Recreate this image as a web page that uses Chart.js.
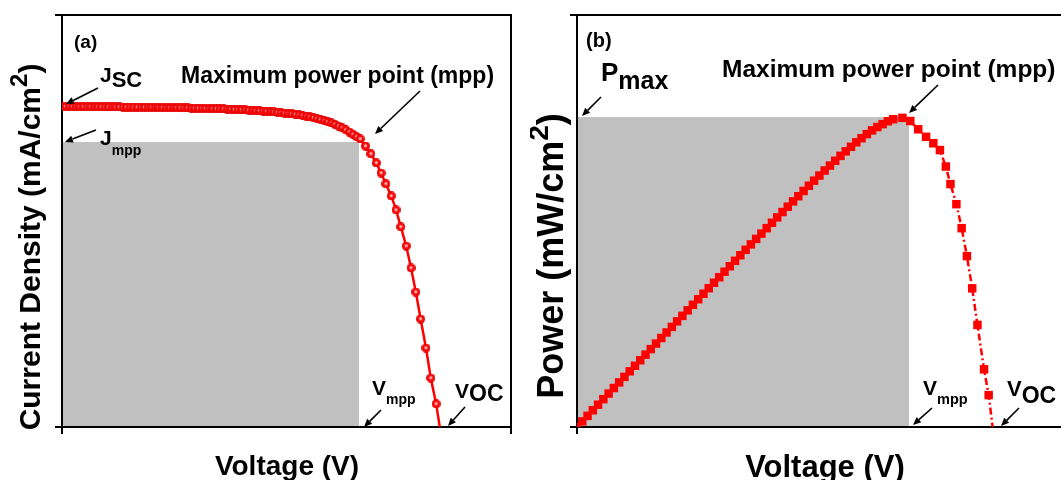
<!DOCTYPE html>
<html>
<head>
<meta charset="utf-8">
<script src="https://cdn.jsdelivr.net/npm/chart.js@4.4.1/dist/chart.umd.min.js"></script>
<style>
  html, body { margin: 0; padding: 0; overflow: hidden; background: #fff; }
  #wrap { position: relative; width: 1061px; height: 480px; overflow: hidden; }
  canvas { position: absolute; top: 0; }
</style>
</head>
<body>
<div id="wrap">
  <canvas id="jv" width="530" height="480" style="left:0"></canvas>
  <canvas id="pv" width="560" height="480" style="left:530px"></canvas>
</div>
<script>
// ---------- (a) J-V curve ----------
const voltageJV = [
  0.000, 0.006, 0.012, 0.018, 0.024, 0.030, 0.036, 0.042, 0.048, 0.054,
  0.060, 0.066, 0.072, 0.078, 0.084, 0.090, 0.096, 0.102, 0.108, 0.114,
  0.120, 0.126, 0.132, 0.138, 0.144, 0.150, 0.156, 0.162, 0.168, 0.174,
  0.180, 0.186, 0.192, 0.198, 0.204, 0.210, 0.216, 0.222, 0.228, 0.234,
  0.240, 0.246, 0.252, 0.258, 0.264, 0.270, 0.276, 0.282, 0.288, 0.294,
  0.300, 0.306, 0.312, 0.318, 0.324, 0.330, 0.336, 0.342, 0.348, 0.354,
  0.360, 0.366, 0.372, 0.378, 0.384, 0.390, 0.396, 0.402, 0.408, 0.414,
  0.420, 0.426, 0.432, 0.438, 0.444, 0.450, 0.456, 0.462, 0.468, 0.474,
  0.480, 0.486, 0.492,
  0.498, 0.507, 0.516, 0.525, 0.533, 0.541, 0.550, 0.558, 0.566, 0.575,
  0.583, 0.591, 0.599, 0.608, 0.616, 0.625, 0.631
];
const currentJV = [
  19.45, 19.45, 19.45, 19.44, 19.44, 19.44, 19.44, 19.43, 19.43, 19.43,
  19.43, 19.43, 19.42, 19.42, 19.42, 19.42, 19.42, 19.41, 19.41, 19.41,
  19.41, 19.41, 19.40, 19.40, 19.40, 19.40, 19.39, 19.39, 19.39, 19.38,
  19.38, 19.38, 19.37, 19.37, 19.36, 19.36, 19.35, 19.35, 19.34, 19.34,
  19.33, 19.33, 19.32, 19.31, 19.31, 19.30, 19.29, 19.28, 19.27, 19.26,
  19.25, 19.24, 19.23, 19.22, 19.20, 19.19, 19.17, 19.16, 19.14, 19.12,
  19.10, 19.08, 19.05, 19.03, 19.00, 18.97, 18.94, 18.90, 18.86, 18.82,
  18.77, 18.72, 18.66, 18.60, 18.53, 18.45, 18.36, 18.26, 18.15, 18.03,
  17.90, 17.76, 17.61,
  17.48, 17.05, 16.57, 16.02, 15.41, 14.75, 14.02, 13.17, 12.14, 10.98,
  9.65, 8.19, 6.55, 4.79, 2.97, 1.40, 0
];

// ---------- (b) P-V curve ----------
const voltagePV = [
  0.000, 0.008, 0.016, 0.024, 0.032, 0.040, 0.048, 0.056, 0.064, 0.072,
  0.080, 0.088, 0.096, 0.104, 0.112, 0.120, 0.128, 0.136, 0.144, 0.152,
  0.160, 0.168, 0.176, 0.184, 0.192, 0.200, 0.208, 0.216, 0.224, 0.232,
  0.240, 0.248, 0.256, 0.264, 0.272, 0.280, 0.288, 0.296, 0.304, 0.312,
  0.320, 0.328, 0.336, 0.344, 0.352, 0.360, 0.368, 0.376, 0.384, 0.392,
  0.400, 0.408, 0.416, 0.424, 0.432, 0.440, 0.448, 0.456, 0.464, 0.472,
  0.480,
  0.494, 0.506, 0.518, 0.530, 0.541, 0.551, 0.560, 0.567, 0.576, 0.584,
  0.592, 0.600, 0.608, 0.618, 0.625, 0.631
];
const powerPV = [
  0, 0.156, 0.311, 0.467, 0.622, 0.778, 0.933, 1.088, 1.244, 1.398,
  1.554, 1.709, 1.864, 2.019, 2.174, 2.329, 2.484, 2.638, 2.794, 2.949,
  3.102, 3.257, 3.411, 3.566, 3.719, 3.874, 4.027, 4.180, 4.334, 4.487,
  4.639, 4.794, 4.946, 5.098, 5.250, 5.398, 5.550, 5.701, 5.852, 6.000,
  6.150, 6.298, 6.441, 6.588, 6.734, 6.876, 7.018, 7.159, 7.296, 7.432,
  7.568, 7.695, 7.821, 7.946, 8.061, 8.175, 8.279, 8.372, 8.454, 8.534,
  8.592,
  8.63, 8.54, 8.31, 8.10, 7.92, 7.73, 7.27, 6.78, 6.22, 5.55,
  4.77, 3.87, 2.85, 1.61, 0.89, 0
];

// maximum power point (shaded rectangles)
const vmppJ = 0.496, jmpp = 17.29;
const vmppP = 0.504, pmax = 8.65;

// axis ranges (no tick labels in the figure)
const vRange = [0, 0.75];
const jRange = [0, 25];
const pRange = [0, 11.5];

const FONT = '"Liberation Sans", Arial, Helvetica, sans-serif';

// red ball with a small white highlight
function makeBall() {
  const c = document.createElement('canvas');
  c.width = 9; c.height = 9;
  const g = c.getContext('2d');
  const grd = g.createRadialGradient(4.5, 4.0, 0, 4.5, 4.5, 4.5);
  grd.addColorStop(0, '#ffffff');
  grd.addColorStop(0.22, '#ffb0b0');
  grd.addColorStop(0.42, '#ff1010');
  grd.addColorStop(1, '#e00000');
  g.fillStyle = grd;
  g.beginPath(); g.arc(4.5, 4.5, 4.5, 0, Math.PI * 2); g.fill();
  return c;
}
const ball = makeBall();

function rich(ctx, parts, x, y, opt) {
  opt = opt || {};
  ctx.save();
  ctx.translate(x, y);
  if (opt.rotate) ctx.rotate(opt.rotate);
  ctx.fillStyle = '#000';
  ctx.textAlign = 'left';
  ctx.textBaseline = 'alphabetic';
  let w = 0;
  parts.forEach(p => { ctx.font = 'bold ' + p[1] + 'px ' + FONT; w += ctx.measureText(p[0]).width; });
  let cx = opt.center ? -w / 2 : 0;
  parts.forEach(p => {
    ctx.font = 'bold ' + p[1] + 'px ' + FONT;
    ctx.fillText(p[0], cx, p[2] || 0);
    cx += ctx.measureText(p[0]).width;
  });
  ctx.restore();
}

function arrow(ctx, x1, y1, x2, y2) {
  const a = Math.atan2(y2 - y1, x2 - x1), h = 8, w = 3.5;
  const bx = x2 - h * Math.cos(a), by = y2 - h * Math.sin(a);
  ctx.save();
  ctx.strokeStyle = '#000'; ctx.fillStyle = '#000'; ctx.lineWidth = 1.6;
  ctx.beginPath(); ctx.moveTo(x1, y1); ctx.lineTo(bx, by); ctx.stroke();
  ctx.beginPath(); ctx.moveTo(x2, y2);
  ctx.lineTo(bx + w * Math.sin(a), by - w * Math.cos(a));
  ctx.lineTo(bx - w * Math.sin(a), by + w * Math.cos(a));
  ctx.closePath(); ctx.fill();
  ctx.restore();
}

// shaded mpp box + frame + annotations
function makePanel(vm, ym, drawText) {
  return {
    id: 'panel',
    beforeDraw(chart) {
      const { ctx, scales: { x, y } } = chart;
      const x0 = x.getPixelForValue(0), x1 = x.getPixelForValue(vm);
      const y0 = y.getPixelForValue(0), y1 = y.getPixelForValue(ym);
      ctx.save();
      ctx.fillStyle = '#c0c0c0';
      ctx.fillRect(x0, y1, x1 - x0, y0 - y1);
      ctx.restore();
    },
    afterDraw(chart) {
      const { ctx, chartArea: a } = chart;
      ctx.save();
      ctx.strokeStyle = '#000'; ctx.lineWidth = 2;
      ctx.beginPath();
      ctx.moveTo(a.left - 1, a.top); ctx.lineTo(a.right, a.top); ctx.lineTo(a.right, a.bottom);
      ctx.stroke();
      ctx.restore();
      drawText(ctx);
    }
  };
}

function axis(range, pos) {
  return {
    type: 'linear', position: pos, min: range[0], max: range[1],
    afterBuildTicks: s => { s.ticks = [{ value: range[0] }, { value: range[1] }]; },
    ticks: { display: false },
    grid: { drawOnChartArea: false, drawTicks: true, tickLength: 7, color: '#000', lineWidth: 2 },
    border: { display: true, color: '#000', width: 2 }
  };
}

function baseOptions(pad, yRange) {
  return {
    responsive: false, animation: false, devicePixelRatio: 1, events: [],
    layout: { padding: pad },
    plugins: { legend: { display: false }, tooltip: { enabled: false } },
    scales: { x: axis(vRange, 'bottom'), y: axis(yRange, 'left') }
  };
}

// =========================== chart (a) =================
new Chart(document.getElementById('jv').getContext('2d'), {
  type: 'line',
  data: {
    datasets: [{
      data: voltageJV.map((v, i) => ({ x: v, y: currentJV[i] })),
      borderColor: '#ff0000',
      borderWidth: 2.5,
      tension: 0,
      fill: false,
      pointStyle: ball,
      pointRadius: c => (c.dataIndex === voltageJV.length - 1 ? 0 : 4.5)
    }]
  },
  options: baseOptions({ left: 55, top: 15, right: 19, bottom: 46 }, jRange),
  plugins: [makePanel(vmppJ, jmpp, ctx => {
    rich(ctx, [['(a)', 19]], 74, 48);
    rich(ctx, [['J', 21], ['SC', 22, 5]], 100, 82);
    arrow(ctx, 98, 88, 66, 104);
    rich(ctx, [['J', 21], ['mpp', 14, 10]], 100, 145);
    arrow(ctx, 96, 130, 65, 142);
    rich(ctx, [['Maximum power point (mpp)', 23]], 181, 83);
    arrow(ctx, 420, 91, 375, 134);
    rich(ctx, [['V', 21], ['mpp', 14, 9]], 372, 395);
    arrow(ctx, 381, 410, 364, 427);
    rich(ctx, [['V', 21], ['OC', 23, 3]], 455, 398);
    arrow(ctx, 465, 407, 448, 426);
    rich(ctx, [['Voltage (V)', 28]], 287, 475, { center: true });
    rich(ctx, [['Current Density (mA/cm', 30], ['2', 24, -13], [')', 30]], 40, 247,
      { rotate: -Math.PI / 2, center: true });
  })]
});

// =========================== chart (b) =================
const OX = 530;
new Chart(document.getElementById('pv').getContext('2d'), {
  type: 'line',
  data: {
    datasets: [{
      data: voltagePV.map((v, i) => ({ x: v, y: powerPV[i] })),
      borderColor: '#ff0000',
      borderWidth: 2.5,
      borderDash: [7, 3, 2, 3],
      tension: 0,
      fill: false,
      pointStyle: 'rect',
      pointBackgroundColor: '#ff0000',
      pointBorderWidth: 0,
      pointRadius: c => (c.dataIndex === voltagePV.length - 1 ? 0 : 6)
    }]
  },
  options: baseOptions({ left: 40, top: 15, right: 19, bottom: 46 }, pRange),
  plugins: [makePanel(vmppP, pmax, ctx => {
    rich(ctx, [['(b)', 20]], 586 - OX, 47);
    rich(ctx, [['P', 26], ['max', 25, 8]], 601 - OX, 81);
    arrow(ctx, 601 - OX, 97, 582 - OX, 116);
    rich(ctx, [['Maximum power point (mpp)', 24.5]], 722 - OX, 77);
    arrow(ctx, 938 - OX, 85, 909 - OX, 113);
    rich(ctx, [['V', 21], ['mpp', 14.5, 9]], 923 - OX, 395);
    arrow(ctx, 932 - OX, 408, 913 - OX, 425);
    rich(ctx, [['V', 22], ['OC', 23, 7]], 1007 - OX, 396);
    arrow(ctx, 1019 - OX, 408, 1001 - OX, 426);
    rich(ctx, [['Voltage (V)', 31]], 825 - OX, 477, { center: true });
    rich(ctx, [['Power (mW/cm', 36], ['2', 28, -15], [')', 36]], 563 - OX, 256,
      { rotate: -Math.PI / 2, center: true });
  })]
});
</script>
</body>
</html>
